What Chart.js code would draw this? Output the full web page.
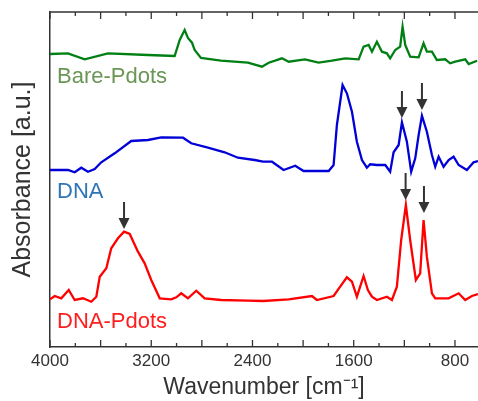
<!DOCTYPE html>
<html>
<head>
<meta charset="utf-8">
<script src="https://cdn.jsdelivr.net/npm/chart.js@4.4.1/dist/chart.umd.min.js"></script>
<style>
  html, body { margin: 0; padding: 0; background: #ffffff; }
  #c { display: block; }
</style>
</head>
<body>
<canvas id="c" width="478" height="401"></canvas>
<script>
// ---- Data (wavenumber in cm^-1, absorbance in arbitrary offset units) ----
const seriesNames = ['Bare-Pdots', 'DNA', 'DNA-Pdots'];

const bareWn  = [4000,3858,3726,3542,3226,3015,2975,2936,2910,2878,2857,2807,2649,2436,2325,2272,2167,2114,1986,1877,1772,1667,1561,1522,1482,1456,1417,1377,1338,1312,1272,1233,1214,1193,1154,1087,1048,1022,982,943,877,838,798,719,692,625];
const bareAbs = [293,293.7,287.7,293.7,292,291,307,317,309,304.3,297,289,286.3,284.3,280.3,284.3,288.7,285.3,287.7,284.3,286.3,288.7,287.7,300.3,302,295.3,305.3,295.3,293.7,288.7,297,300.3,320.3,302,290.3,289.7,303.7,295.3,295.3,287,287.7,283.7,285.3,287.7,283,286.3];

const dnaWn  = [4000,3858,3805,3753,3700,3647,3595,3489,3358,3226,3121,2949,2884,2752,2620,2515,2383,2317,2246,2154,2062,1996,1798,1759,1733,1688,1654,1614,1575,1535,1496,1470,1417,1351,1312,1285,1245,1219,1180,1146,1114,1087,1061,1022,982,956,929,890,850,811,771,706,653,618];
const dnaAbs = [177,177,174.7,179.3,175.3,178,184.7,193.7,206,207,209.7,209.3,203.7,199.3,194.7,189.3,187,185.3,185.3,177,181.3,176,176,182,222,262,253.7,235.3,205.3,187,179.3,182.7,182,182,175.3,194.7,202,224.7,205.3,175.3,188.7,212,231.3,215.3,192,180.3,190.3,180.3,187,190.3,182,177,184.7,186];

const dnaPdotsWn  = [4000,3963,3911,3852,3805,3739,3674,3634,3607,3555,3516,3463,3415,3370,3305,3252,3200,3133,3042,3002,2963,2910,2844,2778,2647,2436,2317,2114,1930,1891,1759,1707,1654,1614,1575,1522,1488,1456,1417,1338,1298,1259,1225,1188,1154,1109,1075,1048,1022,982,956,850,771,719,666,618];
const dnaPdotsAbs = [47.7,51,48.7,57,47,48.7,45.3,50.3,70.3,78.7,98.7,108.7,115.3,113,95.3,83.7,67,48.7,47.7,49.7,53.7,48.7,56.3,48.7,47,46.3,46,47.7,51,47,51,60.3,69.7,65.3,50.3,71,57,50.3,47,50.3,47,60.3,107,142,107,67,73.7,127,90.3,53.7,48.7,48.7,53.7,47,51,53];

// arrow annotations: wavenumber of the marked peak and the height of the arrow tip
const arrowWn   = [1219, 1061, 1190, 1045, 3415];
const arrowTipY = [229, 237, 147, 134, 118];

// axis ticks
const xTickLabels = [4000, 3200, 2400, 1600, 800];
const xMinorTicks = [4000, 3800, 3600, 3400, 3200, 3000, 2800, 2600, 2400, 2200, 2000, 1800, 1600, 1400, 1200, 1000, 800];
const xMajorStep = 400;

// ---- styles ----
const FONT = "'Liberation Sans', Arial, Helvetica, sans-serif";
const AXIS_COLOR = '#333333';
const TEXT_COLOR = '#333333';
const lineColors  = ['rgb(0,128,20)', 'rgb(0,0,215)', 'rgb(255,0,0)'];
const labelColors = ['rgb(106,150,86)', 'rgb(46,117,182)', 'rgb(255,30,30)'];
const labelBaselines = [83, 198, 328];

function toPoints(xs, ys) { return xs.map((v, i) => ({ x: v, y: ys[i] })); }

const decor = {
  id: 'decor',
  afterDraw(chart) {
    const ctx = chart.ctx;
    const a = chart.chartArea;
    const x = chart.scales.x, y = chart.scales.y;
    ctx.save();
    // top frame line
    ctx.fillStyle = AXIS_COLOR;
    ctx.fillRect(a.left - 0.75, a.top - 0.75, a.right - a.left + 6, 1.5);
    // inward tick marks on bottom and top (major and minor)
    xMinorTicks.forEach(v => {
      const px = x.getPixelForValue(v);
      const len = (v % xMajorStep === 0) ? 7 : 4;
      ctx.fillRect(px - 0.65, a.bottom - len, 1.3, len);
      ctx.fillRect(px - 0.65, a.top, 1.3, len);
    });
    // arrows
    ctx.fillStyle = '#333333';
    ctx.strokeStyle = '#333333';
    arrowWn.forEach((wn, i) => {
      const px = x.getPixelForValue(wn);
      const tip = y.getPixelForValue(arrowTipY[i]);
      ctx.lineWidth = 2;
      ctx.beginPath(); ctx.moveTo(px, tip - 27); ctx.lineTo(px, tip - 9); ctx.stroke();
      ctx.beginPath();
      ctx.moveTo(px - 5.5, tip - 11);
      ctx.lineTo(px + 5.5, tip - 11);
      ctx.lineTo(px, tip);
      ctx.closePath(); ctx.fill();
    });
    // series labels
    ctx.font = '22px ' + FONT;
    ctx.textAlign = 'left';
    ctx.textBaseline = 'alphabetic';
    seriesNames.forEach((n, i) => {
      ctx.fillStyle = labelColors[i];
      ctx.fillText(n, a.left + 7, labelBaselines[i]);
    });
    ctx.restore();
  }
};

Chart.defaults.font.family = FONT;
Chart.defaults.color = TEXT_COLOR;

new Chart(document.getElementById('c'), {
  type: 'line',
  data: {
    datasets: [
      { label: seriesNames[0], data: toPoints(bareWn, bareAbs), borderColor: lineColors[0] },
      { label: seriesNames[1], data: toPoints(dnaWn, dnaAbs), borderColor: lineColors[1] },
      { label: seriesNames[2], data: toPoints(dnaPdotsWn, dnaPdotsAbs), borderColor: lineColors[2] }
    ]
  },
  options: {
    responsive: false,
    animation: false,
    events: [],
    layout: { padding: { top: 12, right: 0, bottom: 0, left: 0 } },
    elements: {
      line: { borderWidth: 2.3, tension: 0, fill: false, borderJoinStyle: 'miter' },
      point: { radius: 0 }
    },
    plugins: { legend: { display: false }, tooltip: { enabled: false } },
    scales: {
      x: {
        type: 'linear',
        reverse: true,
        min: 618,
        max: 4000,
        grid: { display: false, drawTicks: false },
        border: { display: true, color: AXIS_COLOR, width: 1.5 },
        afterBuildTicks: (s) => {
          s.ticks = xTickLabels.map(v => ({ value: v }));
        },
        ticks: {
          autoSkip: false,
          maxRotation: 0,
          padding: 4,
          font: { size: 17 },
          color: TEXT_COLOR,
          callback: (v) => String(v)
        },
        title: {
          display: true,
          text: 'Wavenumber [cm\u207B\u00B9]',
          font: { size: 23 },
          color: TEXT_COLOR,
          padding: { top: 0, bottom: 0 }
        },
        afterFit: (s) => { s.height = 54; s.paddingLeft = 0; s.paddingRight = 0; }
      },
      y: {
        type: 'linear',
        min: 0,
        max: 335,
        grid: { display: false, drawTicks: false },
        border: { display: true, color: AXIS_COLOR, width: 1.5 },
        ticks: { display: false },
        title: {
          display: true,
          text: 'Absorbance [a.u.]',
          font: { size: 25 },
          color: TEXT_COLOR,
          padding: { top: 8, bottom: 0 }
        },
        afterFit: (s) => { s.width = 50; }
      }
    }
  },
  plugins: [decor]
});
</script>
</body>
</html>
